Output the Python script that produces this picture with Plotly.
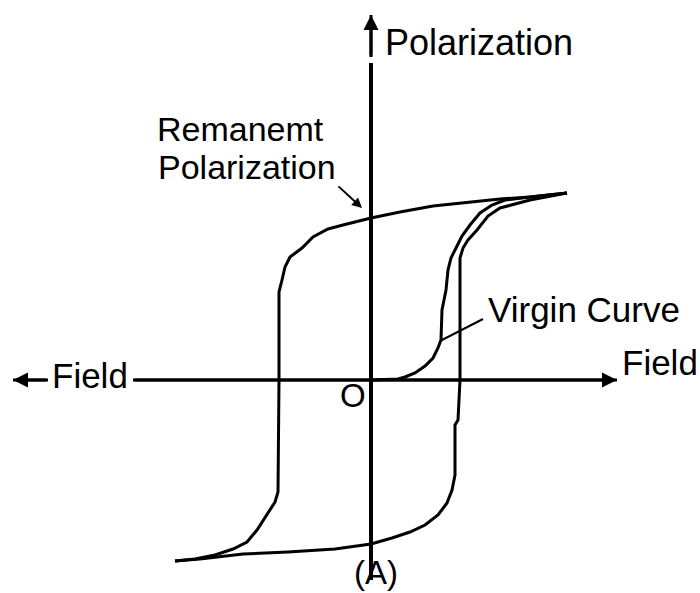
import plotly.graph_objects as go

# field / polarization in normalised units (origin at the axes crossing)
UPPER_E = [1.96, 1.59, 1.29, 0.99, 0.62, 0.29, 0.0, -0.28, -0.43, -0.58, -0.69, -0.81,
           -0.86, -0.89, -0.92, -0.92, -0.93, -0.96, -1.04, -1.14, -1.24, -1.38, -1.56,
           -1.76, -1.96]
UPPER_P = [1.87, 1.83, 1.81, 1.78, 1.74, 1.68, 1.62, 1.55, 1.51, 1.43, 1.32, 1.23,
           1.13, 1.00, 0.88, 0.0, -1.12, -1.22, -1.35, -1.50, -1.62, -1.69, -1.75,
           -1.79, -1.81]

LOWER_E = [-1.96, -1.71, -1.28, -0.83, -0.36, 0.0, 0.21, 0.39, 0.54, 0.67, 0.76, 0.81,
           0.84, 0.84, 0.87, 0.89, 0.89, 0.92, 0.97, 1.06, 1.17, 1.29, 1.59, 1.96]
LOWER_P = [-1.81, -1.79, -1.74, -1.72, -1.69, -1.64, -1.58, -1.52, -1.45, -1.35, -1.23, -1.10,
           -0.95, -0.45, -0.40, 0.0, 1.22, 1.32, 1.40, 1.50, 1.64, 1.72, 1.80, 1.87]

VIRGIN_E = [0.0, 0.27, 0.34, 0.44, 0.54, 0.62, 0.67, 0.70, 0.71, 0.75, 0.77, 0.80,
            0.85, 0.91, 0.99, 1.09, 1.21, 1.34, 1.59, 1.96]
VIRGIN_P = [0.0, 0.01, 0.03, 0.07, 0.14, 0.22, 0.32, 0.40, 0.70, 0.90, 1.10, 1.22,
            1.32, 1.44, 1.55, 1.67, 1.75, 1.80, 1.83, 1.87]

# axis extents
FIELD_LEFT = [-3.58, -3.23]
FIELD_RIGHT = [-2.38, 2.46]
POL_TOP = [3.65, 3.23]
POL_MAIN = [3.17, -2.0]

# pointer from label to virgin curve
POINTER_E = [0.69, 1.12]
POINTER_P = [0.39, 0.61]

FONT = "Liberation Sans, Arial, sans-serif"
INK = "black"

fig = go.Figure()

for xs, ys in [(UPPER_E, UPPER_P), (LOWER_E, LOWER_P), (VIRGIN_E, VIRGIN_P)]:
    fig.add_trace(go.Scatter(x=xs, y=ys, mode="lines",
                             line=dict(color=INK, width=3), hoverinfo="skip"))

# axes drawn as lines
fig.add_trace(go.Scatter(x=FIELD_LEFT, y=[0, 0], mode="lines", line=dict(color=INK, width=3)))
fig.add_trace(go.Scatter(x=FIELD_RIGHT, y=[0, 0], mode="lines", line=dict(color=INK, width=3)))
fig.add_trace(go.Scatter(x=[0, 0], y=POL_TOP, mode="lines", line=dict(color=INK, width=3)))
fig.add_trace(go.Scatter(x=[0, 0], y=POL_MAIN, mode="lines", line=dict(color=INK, width=4)))
fig.add_trace(go.Scatter(x=POINTER_E, y=POINTER_P, mode="lines", line=dict(color=INK, width=2)))

arrow = dict(showarrow=True, arrowhead=2, arrowsize=1, arrowwidth=3, arrowcolor=INK,
             axref="x", ayref="y", text="")
annotations = [
    dict(x=FIELD_LEFT[0], y=0, ax=FIELD_LEFT[1], ay=0, **arrow),
    dict(x=FIELD_RIGHT[1], y=0, ax=FIELD_RIGHT[0], ay=0, **arrow),
    dict(x=0, y=POL_TOP[0], ax=0, ay=POL_TOP[1], **arrow),
    dict(x=-0.09, y=1.72, ax=-0.34, ay=1.95, **{**arrow, "arrowwidth": 2}),
]

labels = [
    ("Polarization", 0.12, 3.38, "left", 36),
    ("Remanemt", -2.16, 2.51, "left", 34),
    ("Polarization", -2.15, 2.13, "left", 34),
    ("Virgin Curve", 1.15, 0.71, "left", 35),
    ("Field", -3.21, 0.05, "left", 35),
    ("Field", 2.49, 0.18, "left", 35),
    ("O", -0.18, -0.15, "center", 33),
    ("(A)", 0.05, -1.92, "center", 33),
]
for text, x, y, anchor, size in labels:
    annotations.append(dict(x=x, y=y, text=text, showarrow=False, xanchor=anchor,
                            yanchor="middle", font=dict(family=FONT, size=size, color=INK)))

fig.update_layout(
    width=700, height=593,
    margin=dict(l=0, r=0, t=0, b=0),
    paper_bgcolor="white", plot_bgcolor="white",
    showlegend=False,
    xaxis=dict(range=[-3.71, 3.29], visible=False),
    yaxis=dict(range=[-2.13, 3.80], visible=False),
    annotations=annotations,
)

fig.write_html("out.html", config={"displayModeBar": False},
               post_script="document.body.style.margin = '0';")
